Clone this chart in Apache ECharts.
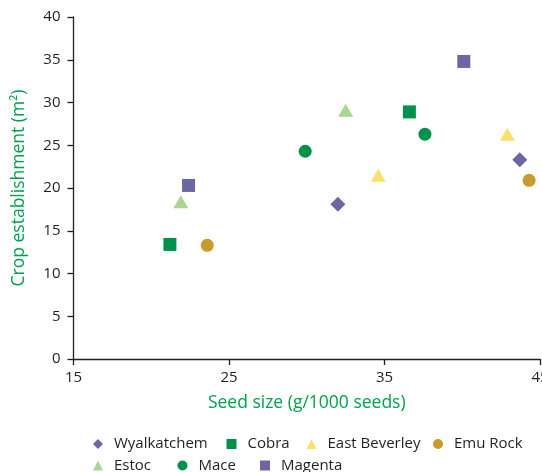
<!DOCTYPE html>
<html>
<head>
<meta charset="utf-8">
<script src="https://cdn.jsdelivr.net/npm/echarts@6/dist/echarts.min.js"></script>
<style>html,body{margin:0;padding:0;background:#fff}#c{width:542px;height:472px}</style>
</head>
<body>
<div id="c"></div>
<script>
// Data (seed size g/1000 seeds, crop establishment m^2)
const seriesNames = ['Wyalkatchem', 'Cobra', 'East Beverley', 'Emu Rock', 'Estoc', 'Mace', 'Magenta'];
const wyalkatchem = [[32.0, 18.1], [43.7, 23.3]];
const cobra = [[21.2, 13.4], [36.6, 28.9]];
const eastBeverley = [[34.6, 21.5], [42.9, 26.3]];
const emuRock = [[23.6, 13.3], [44.3, 20.9]];
const estoc = [[21.9, 18.4], [32.5, 29.1]];
const mace = [[29.9, 24.3], [37.6, 26.3]];
const magenta = [[22.4, 20.3], [40.1, 34.8]];
const xTicks = [15, 25, 35, 45];
const yTicks = [0, 5, 10, 15, 20, 25, 30, 35, 40];

const FONT = 'Open Sans';
const TXT = '#231f20';
const styles = {
  'Wyalkatchem': {symbol: 'diamond', size: [15, 15], color: '#6b67a3'},
  'Cobra': {symbol: 'rect', size: [13, 13], color: '#00924a'},
  'East Beverley': {symbol: 'triangle', size: [15, 13], color: '#fde06b'},
  'Emu Rock': {symbol: 'circle', size: [13, 13], color: '#c99a2c'},
  'Estoc': {symbol: 'triangle', size: [15, 13], color: '#acd591'},
  'Mace': {symbol: 'circle', size: [13, 13], color: '#00924a'},
  'Magenta': {symbol: 'rect', size: [13, 13], color: '#6b67a3'}
};
const dataMap = {
  'Wyalkatchem': wyalkatchem, 'Cobra': cobra, 'East Beverley': eastBeverley,
  'Emu Rock': emuRock, 'Estoc': estoc, 'Mace': mace, 'Magenta': magenta
};
// legend icon centre x, row centre y
const legendPos = {
  'Wyalkatchem': [98, 441.5], 'Cobra': [231.5, 441.5], 'East Beverley': [311.5, 441.5], 'Emu Rock': [438, 441.5],
  'Estoc': [98, 463], 'Mace': [182.5, 463], 'Magenta': [265, 463]
};

const chart = echarts.init(document.getElementById('c'), null, {renderer: 'canvas'});
const series = seriesNames.map(n => ({
  name: n, type: 'scatter', symbol: styles[n].symbol, symbolSize: styles[n].size,
  itemStyle: {color: styles[n].color, opacity: 1}, data: dataMap[n]
}));
const legends = seriesNames.map(n => ({
  data: [n], left: legendPos[n][0] - 5, top: legendPos[n][1] - 5, padding: 0,
  itemWidth: 10, itemHeight: 10, itemGap: 0,
  textStyle: {fontFamily: FONT, fontSize: 15, color: TXT, padding: [0, 0, 0, 6]}
}));

chart.setOption({
  animation: false,
  backgroundColor: '#fff',
  grid: {left: 73.5, right: 2, top: 17, bottom: 113, containLabel: false, outerBoundsMode: 'none'},
  legend: legends,
  xAxis: {
    type: 'value', min: xTicks[0], max: xTicks[xTicks.length - 1], interval: 10,
    name: 'Seed size (g/1000 seeds)', nameLocation: 'middle', nameGap: 35,
    nameTextStyle: {fontFamily: FONT, fontSize: 17.5, color: '#00a14b'},
    axisLine: {show: true, lineStyle: {color: TXT, width: 1.3}},
    axisTick: {show: true, length: 6, lineStyle: {color: TXT, width: 1.3}},
    axisLabel: {fontFamily: FONT, fontSize: 15, color: TXT, margin: 11},
    splitLine: {show: false}
  },
  yAxis: {
    type: 'value', min: yTicks[0], max: yTicks[yTicks.length - 1], interval: 5,
    name: 'Crop establishment (m²)', nameLocation: 'middle', nameGap: 45,
    nameTextStyle: {fontFamily: FONT, fontSize: 17.5, color: '#00a14b'},
    axisLine: {show: true, lineStyle: {color: TXT, width: 1.3}},
    axisTick: {show: true, length: 6, lineStyle: {color: TXT, width: 1.3}},
    axisLabel: {fontFamily: FONT, fontSize: 15, color: TXT, margin: 13},
    splitLine: {show: false}
  },
  series: series
});
</script>
</body>
</html>
